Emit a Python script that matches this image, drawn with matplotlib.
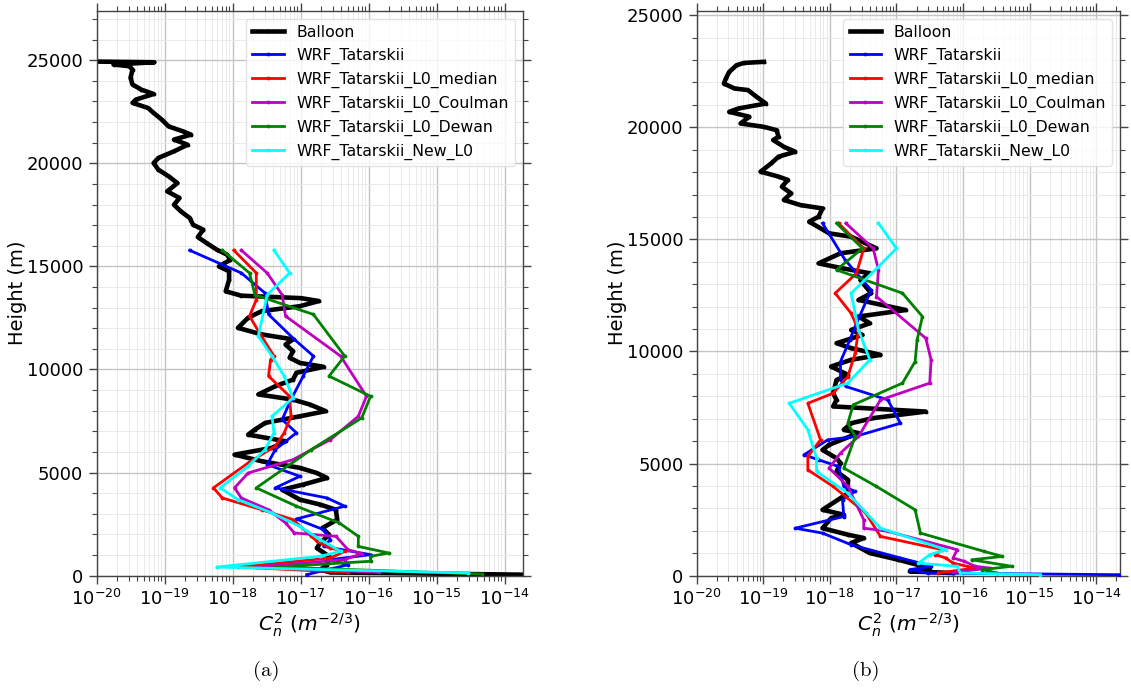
import numpy as np
import matplotlib
matplotlib.use("Agg")
import matplotlib.pyplot as plt
from matplotlib.ticker import MultipleLocator, FixedLocator, NullFormatter, LogFormatterSciNotation

# ---------------- data (heights in m, values as log10 of Cn^2) ----------------
labels = ["Balloon", "WRF_Tatarskii", "WRF_Tatarskii_L0_median",
          "WRF_Tatarskii_L0_Coulman", "WRF_Tatarskii_L0_Dewan", "WRF_Tatarskii_New_L0"]
colors = ["black", "blue", "red", "#bf00bf", "green", "cyan"]

# ----- panel (a) -----
balloon_a_h = [24936, 24900, 24790, 24710, 24545, 24140, 23820, 23570, 23360, 23090, 22930, 22680,
               22440, 22120, 21790, 21550, 21390, 21150, 20900, 20580, 20260, 20010, 19690, 19370,
               19040, 18640, 18320, 17990, 17670, 17350, 17020, 16780, 16420, 16130, 15810, 15570,
               15320, 15000, 14760, 14350, 13790, 13580, 13460, 13320, 13070, 12830, 12510, 12020,
               11700, 11460, 11210, 10890, 10570, 10320, 10130, 9840, 9510, 9190, 8790, 8540, 8300,
               7980, 7730, 7410, 7090, 6840, 6520, 6200, 5870, 5550, 5230, 4980, 4740, 4420, 4170,
               3690, 3450, 3200, 2720, 2310, 1990, 1590, 1340, 940, 530, 290, 160, 50]
balloon_a_lg = [-20.1, -19.15, -19.75, -19.52, -19.47, -19.50, -19.47, -19.34, -19.16, -19.42, -19.47, -19.24,
                -19.16, -19.04, -18.94, -18.73, -18.61, -18.86, -18.66, -18.86, -19.09, -19.16, -19.09, -18.94,
                -18.81, -18.96, -18.78, -18.86, -18.76, -18.63, -18.58, -18.43, -18.51, -18.38, -18.23, -18.08,
                -18.03, -18.20, -18.05, -18.05, -18.10, -17.87, -16.99, -16.73, -17.01, -17.57, -17.77, -17.92,
                -17.57, -17.11, -17.22, -17.11, -17.16, -17.01, -16.66, -17.06, -17.11, -17.37, -17.62, -17.11, -16.86,
                -16.63, -17.01, -17.52, -17.67, -17.77, -17.22, -17.42, -17.97, -17.57, -17.01, -16.76, -16.61, -16.96, -17.27,
                -17.01, -16.71, -16.48, -16.46, -16.68, -16.58, -16.71, -16.76, -16.58, -16.61, -16.71, -16.56, -13.75]

tat_a_h = [15780, 14680, 13700, 12670, 11460, 10650, 9680, 8540, 7570, 6930, 6120, 5390, 4820, 4260,
           3770, 3370, 2750, 2230, 1750, 1420, 1020, 780, 530, 50]
tat_a_lg = [-18.63, -17.87, -17.52, -17.47, -17.09, -16.81, -16.96, -17.14, -17.27, -17.06, -17.37, -17.49,
            -17.01, -17.37, -16.61, -16.35, -17.06, -16.66, -16.56, -16.66, -15.97, -16.56, -16.30, -16.91]

med_a_h = [15780, 14680, 13380, 12590, 11700, 10650, 10480, 9680, 8700, 7730, 6930, 6280, 5470, 4260,
           3770, 3200, 2720, 1910, 1670, 1340, 1180, 860, 420, 160]
med_a_lg = [-17.98, -17.65, -17.65, -17.75, -17.59, -17.39, -17.44, -17.47, -17.16, -17.14, -17.24, -17.37,
            -17.77, -18.28, -18.15, -17.57, -17.11, -16.84, -16.76, -16.56, -16.35, -16.56, -17.92, -16.30]

cou_a_h = [15780, 14680, 13620, 12590, 10650, 8700, 7730, 6600, 5630, 4980, 4260, 3770, 3200, 2560,
           2070, 1910, 1260, 1070, 780, 420, 160]
cou_a_lg = [-17.87, -17.49, -17.27, -17.22, -16.41, -16.03, -16.15, -16.56, -17.11, -17.77, -17.97, -17.87,
            -17.47, -17.22, -17.09, -16.48, -16.30, -16.10, -16.35, -17.65, -15.85]

dew_a_h = [15780, 14680, 13620, 12670, 10650, 9680, 8700, 7650, 6120, 4260, 3370, 2560, 1910, 1420,
           1100, 940, 700, 420, 80]
dew_a_lg = [-18.15, -17.75, -17.67, -16.81, -16.35, -16.58, -15.97, -16.10, -16.84, -17.65, -17.06, -16.43,
            -16.15, -16.15, -15.70, -15.97, -15.97, -17.37, -14.33]

new_a_h = [15780, 14680, 13620, 11620, 10650, 9680, 8620, 7730, 6930, 6120, 5310, 4260, 3690, 3040,
           2390, 1750, 1180, 940, 420, 130]
new_a_lg = [-17.39, -17.16, -17.49, -17.62, -17.42, -17.24, -17.11, -17.42, -17.39, -17.52, -17.77, -18.18,
            -17.92, -17.42, -17.01, -16.71, -16.41, -16.71, -18.23, -14.53]

# ----- panel (b) -----
balloon_b_h = [22920, 22870, 22770, 22470, 22180, 21950, 21730, 21660, 21360, 21060, 20840, 20690, 20470,
               20170, 20020, 19870, 19580, 19430, 19130, 18910, 18690, 18390, 18020, 17800, 17650, 17350,
               17050, 16760, 16530, 16380, 16010, 15790, 15270, 15120, 14600, 14380, 13930, 13710, 13490,
               13190, 12890, 12600, 12300, 11850, 11560, 11260, 10960, 10740, 10370, 10150, 9850, 9630,
               9330, 8960, 8730, 8140, 7840, 7550, 7320, 7030, 6800, 6510, 6360, 5840, 5610, 5240, 5020,
               4650, 4280, 3680, 3460, 2940, 2720, 2570, 2120, 1830, 1680, 1460, 1010, 710, 490, 340, 190, 120]
balloon_b_lg = [-18.99, -19.29, -19.40, -19.51, -19.56, -19.59, -19.43, -19.23, -19.10, -18.96, -19.37, -19.51, -19.21,
                -19.34, -18.99, -18.80, -18.77, -18.85, -18.69, -18.52, -18.77, -18.88, -19.04, -18.77, -18.63, -18.72,
                -18.58, -18.69, -18.44, -18.11, -18.17, -18.31, -18.01, -17.68, -17.30, -17.84, -18.17, -17.81, -17.40,
                -17.54, -17.46, -17.38, -17.57, -16.86, -17.57, -17.40, -17.68, -17.51, -17.90, -17.68, -17.24, -17.68,
                -17.98, -17.73, -17.90, -17.95, -17.90, -17.95, -16.56, -17.35, -17.68, -17.79, -17.57, -18.01, -18.11, -17.90, -17.84,
                -17.90, -17.73, -17.73, -17.84, -18.11, -17.79, -17.98, -18.11, -17.73, -17.49, -17.68, -17.40, -16.97, -16.69, -16.50, -16.80, -16.15]

tat_b_h = [15720, 14080, 12740, 11260, 10520, 9550, 8730, 8440, 7840, 6800, 6210, 6060, 5390, 5170, 4870,
           3980, 3760, 3390, 2640, 2120, 1900, 1380, 790, 560, 420, 270, 120, 45]
tat_b_lg = [-18.11, -17.77, -17.38, -17.60, -17.70, -17.84, -17.84, -17.76, -17.13, -16.94, -17.62, -18.03,
            -18.39, -18.17, -17.87, -17.79, -17.62, -17.81, -17.79, -18.52, -18.11, -17.68, -16.94, -16.64,
            -16.48, -16.80, -16.53, -13.66]

med_b_h = [15720, 14600, 13490, 12600, 11700, 10960, 9920, 8880, 8140, 7690, 6060, 5320, 4720, 3980,
           2790, 1750, 1160, 940, 790, 560, 340, 120]
med_b_lg = [-17.87, -17.49, -17.60, -17.92, -17.68, -17.57, -17.62, -17.73, -17.95, -18.33, -18.14, -18.33,
            -18.33, -17.95, -17.46, -17.24, -16.31, -16.42, -16.26, -16.15, -15.82, -16.37]

cou_b_h = [15720, 14600, 13640, 12450, 10590, 9630, 8590, 7840, 6210, 5470, 4800, 3980, 2490, 2120,
           1980, 1160, 790, 640, 420, 340, 150]
cou_b_lg = [-17.76, -17.35, -17.27, -17.30, -16.56, -16.48, -16.50, -17.24, -17.57, -17.84, -18.01, -17.73,
            -17.49, -17.49, -17.13, -16.09, -16.15, -15.98, -15.82, -15.60, -16.15]

dew_b_h = [15720, 14600, 13640, 12600, 11560, 10520, 9550, 8590, 7620, 6800, 6210, 4800, 3980, 2940,
           1900, 1080, 860, 710, 420, 270, 120]
dew_b_lg = [-17.90, -17.51, -17.90, -16.91, -16.61, -16.69, -16.72, -16.91, -17.65, -17.73, -17.62, -17.79,
            -17.30, -16.72, -16.64, -15.68, -15.41, -15.87, -15.27, -15.71, -15.49]

new_b_h = [15720, 14600, 13780, 12600, 10960, 9630, 8590, 7690, 6510, 5240, 4650, 3680, 2120, 1160,
           940, 560, 420, 120, 45]
new_b_lg = [-17.27, -17.00, -17.27, -17.68, -17.57, -17.40, -17.73, -18.61, -18.33, -18.20, -18.20, -17.73,
            -17.24, -16.26, -16.50, -16.67, -16.09, -16.04, -14.84]

panel_a = [(balloon_a_lg, balloon_a_h), (tat_a_lg, tat_a_h), (med_a_lg, med_a_h),
           (cou_a_lg, cou_a_h), (dew_a_lg, dew_a_h), (new_a_lg, new_a_h)]
panel_b = [(balloon_b_lg, balloon_b_h), (tat_b_lg, tat_b_h), (med_b_lg, med_b_h),
           (cou_b_lg, cou_b_h), (dew_b_lg, dew_b_h), (new_b_lg, new_b_h)]

yticks = [0, 5000, 10000, 15000, 20000, 25000]
xticks = [1e-20, 1e-19, 1e-18, 1e-17, 1e-16, 1e-15, 1e-14]
captions = ["(a)", "(b)"]

# ---------------- figure ----------------
W, H = 1131, 691
fig = plt.figure(figsize=(W / 100, H / 100), dpi=100)
ax_a = fig.add_axes([96.5 / W, 1 - 575.7 / H, 426.5 / W, 565 / H])
ax_b = fig.add_axes([696.6 / W, 1 - 575.7 / H, 423.7 / W, 565 / H])

limits = [((1e-20, 1.87e-14), (0, 27400)), ((1e-20, 2.29e-14), (0, 25200))]

minor_x = [m * 10.0 ** e for e in range(-20, -13) for m in range(2, 10)]

for ax, panel, (xl, yl) in zip([ax_a, ax_b], [panel_a, panel_b], limits):
    for i, ((lg, h), lab, col) in enumerate(zip(panel, labels, colors)):
        lw = 3.3 if i == 0 else 2.0
        ax.plot(10.0 ** np.array(lg), h, color=col, lw=lw, marker='.', ms=3.5,
                label=lab, zorder=3 if i else 2)
    ax.set_xscale('log')
    ax.xaxis.set_major_locator(FixedLocator(xticks))
    ax.xaxis.set_major_formatter(LogFormatterSciNotation())
    ax.xaxis.set_minor_locator(FixedLocator([v for v in minor_x if v <= xl[1]]))
    ax.xaxis.set_minor_formatter(NullFormatter())
    ax.set_xlim(*xl)
    ax.set_ylim(*yl)
    ax.yaxis.set_major_locator(FixedLocator(yticks))
    ax.yaxis.set_minor_locator(MultipleLocator(1000))
    ax.grid(True, which='major', color='#c4c4c4', lw=1.0)
    ax.grid(True, which='minor', color='#e6e6e6', lw=0.6)
    ax.set_axisbelow(True)
    ax.tick_params(which='both', direction='out', top=True, right=True,
                   colors='#444444', labelcolor='black', labelsize=13)
    ax.tick_params(which='major', length=6, width=1)
    ax.tick_params(which='minor', length=3.5, width=0.8)
    for s in ax.spines.values():
        s.set_color('#444444')
        s.set_linewidth(1.0)
    ax.set_ylabel('Height (m)', fontsize=14, labelpad=0)
    ax.set_xlabel(r'$C_n^2\ (m^{-2/3})$', fontsize=14.5, labelpad=2)
    ax.legend(loc='upper right', fontsize=11.3, frameon=True, fancybox=True,
              framealpha=0.8, edgecolor='#dddddd', handlelength=2.0,
              borderaxespad=0.5)

for cap, xc in zip(captions, [266, 866]):
    fig.text(xc / W, 1 - 671 / H, cap, ha='center', va='center',
             fontsize=15, family='cmr10')

fig.savefig('out.png', dpi=100)
